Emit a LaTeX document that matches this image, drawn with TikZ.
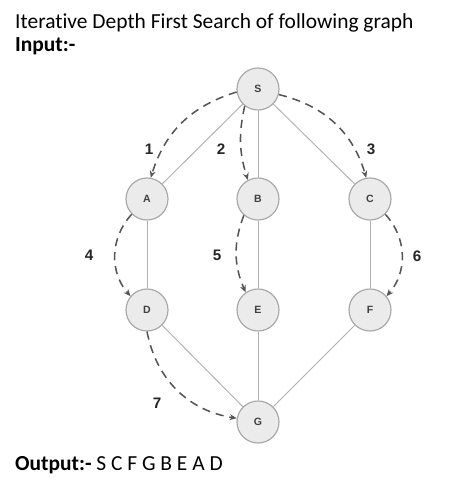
\documentclass[tikz,border=0pt]{standalone}
\usepackage{fontspec}
\setmainfont[Ligatures={NoCommon,NoRequired}]{Carlito}
\newfontfamily\graphfont{Liberation Sans}
\usetikzlibrary{arrows.meta}

\definecolor{nodefill}{HTML}{EBEBEB}
\definecolor{nodeline}{HTML}{A8A8A8}
\definecolor{edgeline}{HTML}{B0B0B0}
\definecolor{walkline}{HTML}{555555}

\tikzset{
  vert/.style={circle,draw=nodeline,fill=nodefill,line width=1pt,minimum size=1.26cm,inner sep=0pt,
    font=\graphfont\bfseries\fontsize{9}{10}\selectfont,text=black!75},
  tree/.style={draw=edgeline,line width=0.8pt},
  walk/.style={draw=walkline,line width=1.3pt,dash pattern=on 7pt off 5pt,-{Stealth[length=6pt,width=5pt]}},
  stepno/.style={font=\graphfont\bfseries\fontsize{13}{14}\selectfont,text=black!85}
}

\begin{document}
\begin{tikzpicture}[x=0.03cm,y=0.03cm]
   \useasboundingbox (0,0) rectangle (459,-493);

   \node[anchor=base west,inner sep=0pt,font=\fontsize{18.3}{20}\selectfont] (title) at (15,-28) {Iterative Depth First Search of following graph};
   \node[anchor=base west,inner sep=0pt,font=\bfseries\fontsize{18.3}{20}\selectfont] (input) at (15,-51) {Input:-};
   \node[anchor=base west,inner sep=0pt,font=\fontsize{18.3}{20}\selectfont] (output) at (15,-470) {\textbf{Output:-} S C F G B E A D};

   \node[vert] (s) at (258,-89)  {S};
   \node[vert] (a) at (147,-199) {A};
   \node[vert] (b) at (258,-199) {B};
   \node[vert] (c) at (370,-199) {C};
   \node[vert] (d) at (147,-310) {D};
   \node[vert] (e) at (258,-310) {E};
   \node[vert] (f) at (370,-310) {F};
   \node[vert] (g) at (258,-422) {G};

   \path[tree] (s) -- (a);
   \path[tree] (s) -- (b);
   \path[tree] (s) -- (c);
   \path[tree] (a) -- (d);
   \path[tree] (b) -- (e);
   \path[tree] (c) -- (f);
   \path[tree] (d) -- (g);
   \path[tree] (e) -- (g);
   \path[tree] (f) -- (g);

   \draw[walk] (s.188) to[bend right=28] (a.80);
   \draw[walk] (s.232) to[bend right=15] (b.118);
   \draw[walk] (s.345) to[bend left=30] (c.100);
   \draw[walk] (a.225) to[bend right=42] (d.140);
   \draw[walk] (b.229) to[bend right=22] (e.125);
   \draw[walk] (c.315) to[bend left=42] (f.40);
   \draw[walk] (d.270) to[bend right=35] (g.170);

   \node[stepno] (n1) at (149,-149) {1};
   \node[stepno] (n2) at (221,-149) {2};
   \node[stepno] (n3) at (371,-149) {3};
   \node[stepno] (n4) at (89,-255) {4};
   \node[stepno] (n5) at (217,-255) {5};
   \node[stepno] (n6) at (417,-256) {6};
   \node[stepno] (n7) at (157,-403) {7};
\end{tikzpicture}
\end{document}
